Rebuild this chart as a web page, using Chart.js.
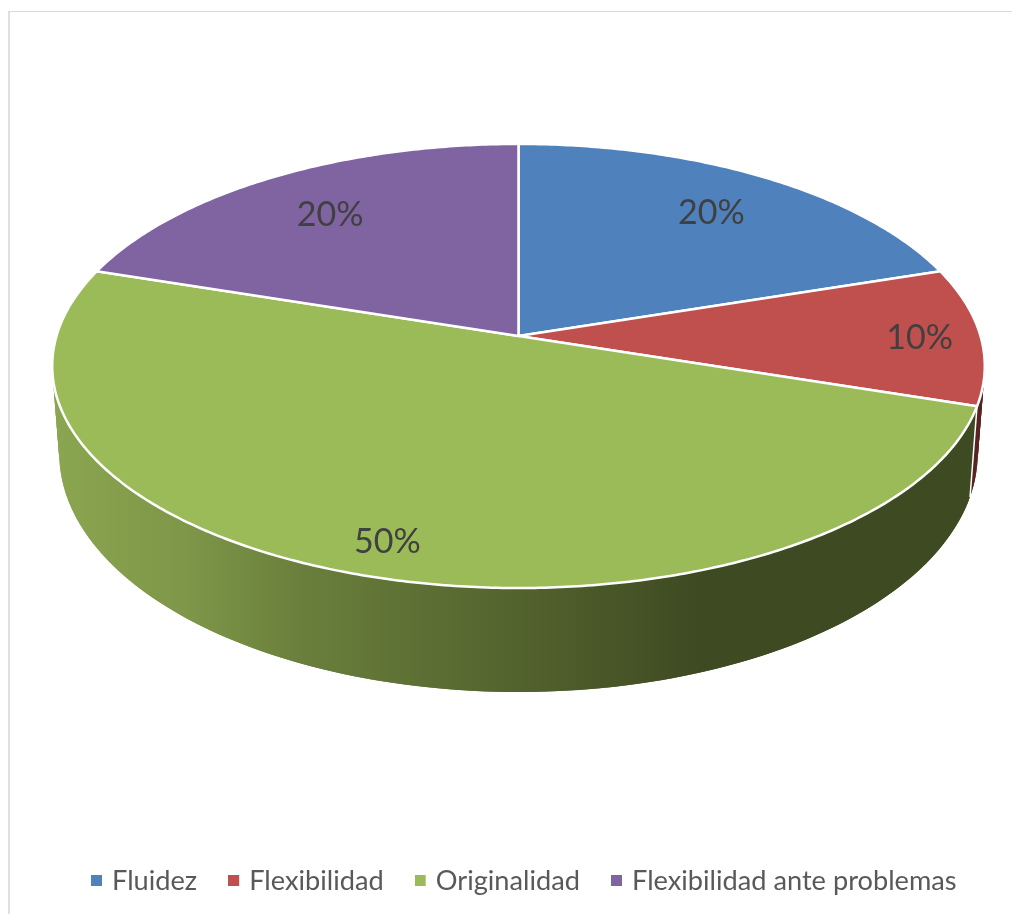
<!DOCTYPE html>
<html>
<head>
<meta charset="utf-8">
<script src="https://cdn.jsdelivr.net/npm/chart.js@4/dist/chart.umd.min.js"></script>
<style>
  html, body { margin: 0; padding: 0; background: #fff; overflow: hidden; }
  #wrap { position: relative; width: 1012px; height: 914px; }
  #frame { position: absolute; left: 8px; top: 11px; right: 0; bottom: 0; border-left: 2px solid #e0e0e0; border-top: 1px solid #d9d9d9; }
  canvas { position: absolute; left: 0; top: 0; }
</style>
</head>
<body>
<div id="wrap">
  <div id="frame"></div>
  <canvas id="myChart" width="1012" height="914"></canvas>
</div>
<script>
var categories = ["Fluidez", "Flexibilidad", "Originalidad", "Flexibilidad ante problemas"];
var values = [20, 10, 50, 20];
var sliceColors = ["#4f81bd", "#c0504d", "#9bbb59", "#8064a2"];
var wallColors = ["#2f4d71", "#5a2320", "#3e4a22", "#4c3c61"];

// where the labels sit, as a fraction of the radius
var labelRadius = [0.766, 0.866, 0.868, 0.755];
var labelTurn = [0, 0, -1, 0];

// perspective of the top and the bottom plane of the pie
var topPlane = { cx: 518.5, cy: 336, a: 462, b: 218, k: 0.135 };
var bottomPlane = { cx: 518.5, cy: 421.5, a: 455, b: 234, k: 0.135 };

function project(plane, angle, r) {
  // angle as Chart.js gives it, 0 is 3 o'clock
  var u = Math.cos(angle) * r;
  var v = Math.sin(angle) * r;
  var w = 1 - plane.k * v;
  return { x: plane.cx + plane.a * u / w, y: plane.cy + plane.b * v / w };
}

function traceRim(ctx, plane, from, to) {
  var steps = Math.max(2, Math.ceil(Math.abs(to - from) / 0.01));
  for (var i = 0; i <= steps; i++) {
    var p = project(plane, from + (to - from) * i / steps, 1);
    ctx.lineTo(p.x, p.y);
  }
}

function wallFill(ctx, i) {
  if (i != 2) {
    return wallColors[i];
  }
  var g = ctx.createLinearGradient(52, 0, 985, 0);
  g.addColorStop(0, "#8ba650");
  g.addColorStop(0.148, "#7d9648");
  g.addColorStop(0.266, "#6a7f3c");
  g.addColorStop(0.48, "#55652f");
  g.addColorStop(0.695, "#3e4a22");
  g.addColorStop(1, "#3e4a22");
  return g;
}

// the wall is a band of overlapping quads, so the straight
// silhouette between the two rims gets filled as well
function fillWall(ctx, from, to, fill) {
  var step = 0.02;
  ctx.fillStyle = fill;
  for (var t = from; t < to; t += step) {
    var t2 = Math.min(t + step * 2, to);
    var a = project(topPlane, t, 1);
    var b = project(topPlane, t2, 1);
    var c = project(bottomPlane, t2, 1);
    var d = project(bottomPlane, t, 1);
    ctx.beginPath();
    ctx.moveTo(a.x, a.y);
    ctx.lineTo(b.x, b.y);
    ctx.lineTo(c.x, c.y);
    ctx.lineTo(d.x, d.y);
    ctx.closePath();
    ctx.fill();
  }
}

// little square for the legend, set off so the text sits close to it
function legendMark(color) {
  var c = document.createElement("canvas");
  c.width = 14;
  c.height = 11;
  var x = c.getContext("2d");
  x.fillStyle = color;
  x.fillRect(0, 0, 11, 11);
  return c;
}

var pie3d = {
  id: "pie3d",
  beforeDatasetDraw: function (chart, args) {
    var ctx = chart.ctx;
    var arcs = args.meta.data;
    ctx.save();
    ctx.lineJoin = "round";

    // side walls first, the top covers whatever is at the back
    arcs.forEach(function (arc, i) {
      var a = arc.getProps(["startAngle", "endAngle"], true);
      fillWall(ctx, a.startAngle, a.endAngle, wallFill(ctx, i));
    });
    arcs.forEach(function (arc) {
      var a = arc.getProps(["startAngle"], true);
      var p0 = project(topPlane, a.startAngle, 1);
      var p1 = project(bottomPlane, a.startAngle, 1);
      if (p0.y > topPlane.cy) {
        ctx.beginPath();
        ctx.moveTo(p0.x, p0.y);
        ctx.lineTo(p1.x, p1.y);
        ctx.strokeStyle = "#fff";
        ctx.lineWidth = 1.5;
        ctx.stroke();
      }
    });

    arcs.forEach(function (arc, i) {
      var a = arc.getProps(["startAngle", "endAngle"], true);
      ctx.beginPath();
      ctx.moveTo(topPlane.cx, topPlane.cy);
      traceRim(ctx, topPlane, a.startAngle, a.endAngle);
      ctx.closePath();
      ctx.fillStyle = sliceColors[i];
      ctx.fill();
      ctx.strokeStyle = "#fff";
      ctx.lineWidth = 2.5;
      ctx.stroke();
    });

    var total = values.reduce(function (s, v) { return s + v; }, 0);
    ctx.font = "34px Lato, 'Open Sans', sans-serif";
    ctx.fillStyle = "#404040";
    ctx.textAlign = "center";
    ctx.textBaseline = "middle";
    arcs.forEach(function (arc, i) {
      var a = arc.getProps(["startAngle", "endAngle"], true);
      var mid = (a.startAngle + a.endAngle) / 2 + labelTurn[i] * Math.PI / 180;
      var p = project(topPlane, mid, labelRadius[i]);
      ctx.fillText(Math.round(values[i] / total * 100) + "%", p.x + 1, p.y + 2);
    });

    ctx.restore();
    return false;
  }
};

var myChart = new Chart(document.getElementById("myChart"), {
  type: "pie",
  data: {
    labels: categories,
    datasets: [{
      data: values,
      backgroundColor: sliceColors
    }]
  },
  options: {
    responsive: false,
    animation: false,
    layout: { padding: { bottom: 9.5, left: 42 } },
    plugins: {
      tooltip: { enabled: false },
      legend: {
        position: "bottom",
        labels: {
          usePointStyle: true,
          boxWidth: 1,
          padding: 37.5,
          color: "#595959",
          font: { family: "Lato, 'Open Sans', sans-serif", size: 27.2 },
          generateLabels: function (chart) {
            return categories.map(function (name, i) {
              return { text: name, fillStyle: sliceColors[i], strokeStyle: sliceColors[i], lineWidth: 0, pointStyle: legendMark(sliceColors[i]), index: i, fontColor: "#595959" };
            });
          }
        }
      }
    }
  },
  plugins: [pie3d]
});
</script>
</body>
</html>
